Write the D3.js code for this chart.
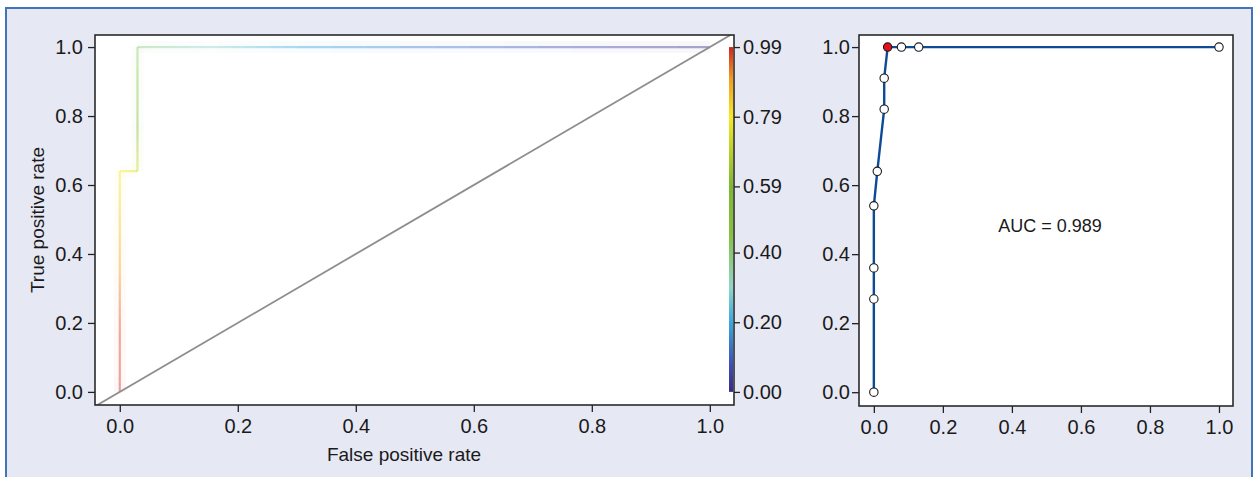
<!DOCTYPE html>
<html><head><meta charset="utf-8">
<script src="https://cdn.jsdelivr.net/npm/d3@7"></script>
<style>
html,body{margin:0;padding:0;background:#fff;}
text{font-family:"Liberation Sans",Arial,sans-serif;fill:#1a1a1a;}
</style></head>
<body><svg id="c" width="1258" height="477"></svg>
<script>
// ---- data ----
// left panel: ROC curve with cutoffs (colour-coded)
const leftFpr = [0, 0, 0, 0, 0.03, 0.03, 0.03, 0.30, 1.00];
const leftTpr = [0, 0.18, 0.45, 0.64, 0.64, 0.80, 1.00, 1.00, 1.00];
const leftCut = [0.99, 0.97, 0.86, 0.79, 0.72, 0.55, 0.38, 0.20, 0.0];
const axisTicks = [0, 0.2, 0.4, 0.6, 0.8, 1.0];
const cutTicks = [0.00, 0.20, 0.40, 0.59, 0.79, 0.99];
const cutStops = [0.0, 0.08, 0.20, 0.30, 0.45, 0.59, 0.79, 0.90, 0.99];
const cutColors = ["#3a2a86", "#3d4fb8", "#38a9e2", "#8fd6c9", "#86c240", "#7cb82f", "#f7ea1f", "#f39a1f", "#d4231c"];
// right panel: ROC points
const rightFpr = [0, 0, 0, 0, 0.01, 0.03, 0.03, 0.04, 0.08, 0.13, 1.00];
const rightTpr = [0, 0.27, 0.36, 0.54, 0.64, 0.82, 0.91, 1.00, 1.00, 1.00, 1.00];
const optimalIndex = 7;
const aucLabel = "AUC = 0.989";
const xLabel = "False positive rate";
const yLabel = "True positive rate";

const svg = d3.select("#c");
svg.append("rect").attr("x",6).attr("y",8).attr("width",1246).attr("height",490)
  .attr("fill","#e6e8f4").attr("stroke","#4174b9").attr("stroke-width",2);

const fmt1 = d3.format(".1f");
const fs = "20px";

function frameAxes(g, x, y, left, right, top, bottom, padY) {
  g.append("rect").attr("x",left).attr("y",top).attr("width",right-left).attr("height",bottom-top)
    .attr("fill","#fff");
  const ax = g.append("g").attr("transform",`translate(0,${bottom})`)
    .call(d3.axisBottom(x).tickValues(axisTicks).tickFormat(fmt1).tickSize(7).tickPadding(7));
  const ay = g.append("g").attr("transform",`translate(${left},0)`)
    .call(d3.axisLeft(y).tickValues(axisTicks).tickFormat(fmt1).tickSize(7).tickPadding(padY));
  [ax, ay].forEach(a => {
    a.select(".domain").remove();
    a.selectAll("line").attr("stroke","#222").attr("stroke-width",1.3);
    a.selectAll("text").style("font-size",fs).attr("fill","#1a1a1a");
  });
}
function frameBorder(g, left, right, top, bottom){
  g.append("rect").attr("x",left).attr("y",top).attr("width",right-left).attr("height",bottom-top)
    .attr("fill","none").attr("stroke","#2a2a2a").attr("stroke-width",1.6);
}

// ---------- left panel ----------
const L = {left:95, right:734, top:35, bottom:405};
const xL = d3.scaleLinear().domain([-0.042, 1.041]).range([L.left, L.right]);
const yL = d3.scaleLinear().domain([-0.038, 1.035]).range([L.bottom, L.top]);
const gL = svg.append("g");
frameAxes(gL, xL, yL, L.left, L.right, L.top, L.bottom, 5);
const color = d3.scaleLinear().domain(cutStops).range(cutColors).interpolate(d3.interpolateRgb);

svg.append("clipPath").attr("id","clipL").append("rect")
  .attr("x",L.left).attr("y",L.top).attr("width",L.right-L.left).attr("height",L.bottom-L.top);
const pl = gL.append("g").attr("clip-path","url(#clipL)");

const segs = [];
for (let i=0;i<leftFpr.length-1;i++){
  const n = 12;
  for (let k=0;k<n;k++){
    const t0=k/n, t1=(k+1)/n;
    const f=(a,b,t)=>a+(b-a)*t;
    segs.push({
      x0:f(leftFpr[i],leftFpr[i+1],t0), y0:f(leftTpr[i],leftTpr[i+1],t0),
      x1:f(leftFpr[i],leftFpr[i+1],t1), y1:f(leftTpr[i],leftTpr[i+1],t1),
      c:f(leftCut[i],leftCut[i+1],(t0+t1)/2)
    });
  }
}
pl.selectAll("line.glow").data(segs).join("line").attr("class","glow")
  .attr("x1",d=>xL(d.x0)).attr("y1",d=>yL(d.y0)).attr("x2",d=>xL(d.x1)).attr("y2",d=>yL(d.y1))
  .attr("stroke",d=>color(d.c)).attr("stroke-width",12).attr("stroke-opacity",0.035).attr("stroke-linecap","butt");
pl.selectAll("line.seg").data(segs).join("line").attr("class","seg")
  .attr("x1",d=>xL(d.x0)).attr("y1",d=>yL(d.y0)).attr("x2",d=>xL(d.x1)).attr("y2",d=>yL(d.y1))
  .attr("stroke",d=>color(d.c)).attr("stroke-width",2.2).attr("stroke-opacity",0.42).attr("stroke-linecap","butt");
pl.append("line")
  .attr("x1",xL(-0.05)).attr("y1",yL(-0.05)).attr("x2",xL(1.05)).attr("y2",yL(1.05))
  .attr("stroke","#8e8e8e").attr("stroke-width",1.8);

// colour bar
const cb = d3.scaleLinear().domain([0, 0.99]).range([yL(0), yL(1)]);
const grad = svg.append("defs").append("linearGradient").attr("id","cbg")
  .attr("x1",0).attr("y1",1).attr("x2",0).attr("y2",0);
cutStops.forEach((s,i)=>grad.append("stop").attr("offset",s/0.99).attr("stop-color",cutColors[i]));
gL.append("rect").attr("x",L.right-5).attr("y",cb(0.99)).attr("width",4).attr("height",cb(0)-cb(0.99))
  .attr("fill","url(#cbg)");
frameBorder(gL, L.left, L.right, L.top, L.bottom);
const ac = gL.append("g").attr("transform",`translate(${L.right},0)`)
  .call(d3.axisRight(cb).tickValues(cutTicks).tickFormat(d3.format(".2f")).tickSize(6).tickPadding(3));
ac.select(".domain").remove();
ac.selectAll("line").attr("stroke","#222").attr("stroke-width",1.3);
ac.selectAll("text").style("font-size",fs).attr("fill","#1a1a1a");

gL.append("text").attr("x",404).attr("y",461).attr("text-anchor","middle")
  .style("font-size","19px").text(xLabel);
gL.append("text").attr("transform",`translate(44,220) rotate(-90)`).attr("text-anchor","middle")
  .style("font-size","19px").text(yLabel);

// ---------- right panel ----------
const R = {left:859, right:1233, top:35, bottom:406};
const xR = d3.scaleLinear().domain([-0.043, 1.0406]).range([R.left, R.right]);
const yR = d3.scaleLinear().domain([-0.04, 1.035]).range([R.bottom, R.top]);
const gR = svg.append("g");
frameAxes(gR, xR, yR, R.left, R.right, R.top, R.bottom, 2);
const pts = rightFpr.map((f,i)=>({f, t:rightTpr[i], i}));
gR.append("path").datum(pts)
  .attr("d", d3.line().x(d=>xR(d.f)).y(d=>yR(d.t)))
  .attr("fill","none").attr("stroke","#0d4b96").attr("stroke-width",2.4);
gR.selectAll("circle").data(pts).join("circle")
  .attr("cx",d=>xR(d.f)).attr("cy",d=>yR(d.t)).attr("r",4.2)
  .attr("fill",d=>d.i===optimalIndex?"#e3101c":"#fff").attr("stroke","#1a1a1a").attr("stroke-width",1.1);
frameBorder(gR, R.left, R.right, R.top, R.bottom);
gR.append("text").attr("x",1050).attr("y",232).attr("text-anchor","middle")
  .style("font-size","18px").text(aucLabel);
</script></body></html>
